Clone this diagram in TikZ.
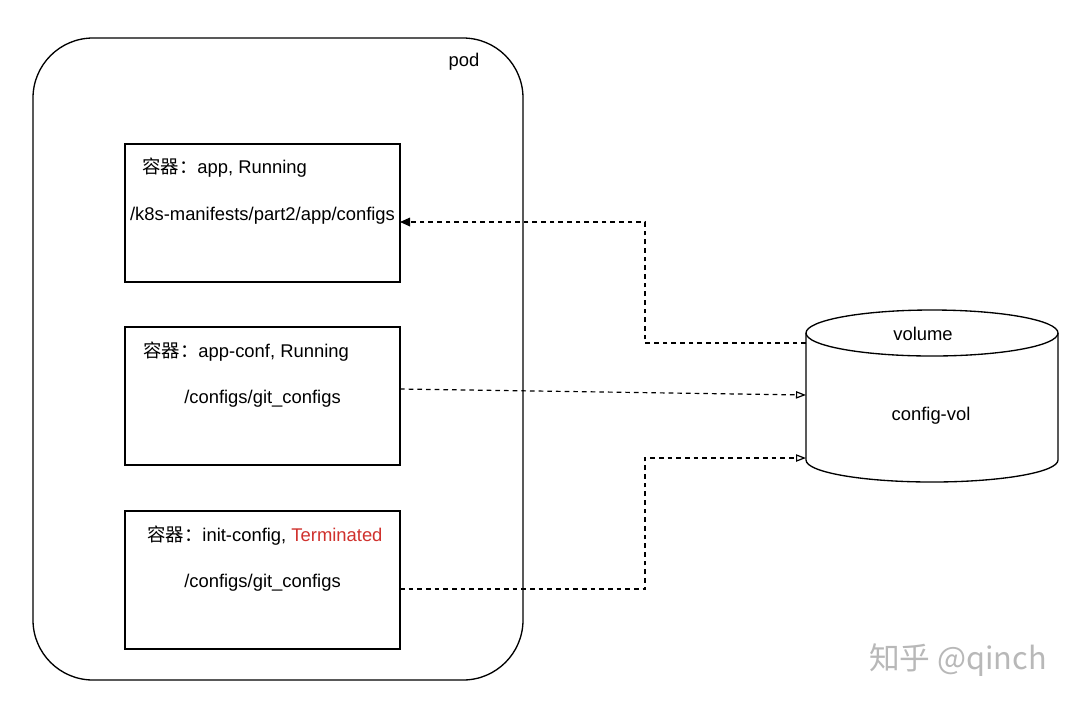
\documentclass[tikz,border=0pt]{standalone}
\usepackage{fontspec}
\setmainfont{Liberation Sans}
\newfontfamily\cjk{Noto Sans CJK SC}
\usetikzlibrary{arrows.meta}
\definecolor{termred}{HTML}{D0312D}
\begin{document}
\begin{tikzpicture}[x=0.75pt,y=-0.75pt,
  lbl/.style={inner sep=0pt, font=\fontsize{13.8pt}{16pt}\selectfont},
  cbox/.style={draw, line width=1pt, minimum width=206.25pt, minimum height=103.5pt, inner sep=0pt, outer sep=0pt},
  conn/.style={line width=0.9pt, dash pattern=on 3.5pt off 3pt},
  opentip/.style={-{Triangle[open, length=7.5pt, width=5.5pt]}},
  filltip/.style={-{Triangle[length=7.5pt, width=6.5pt]}}]
\useasboundingbox (0,0) rectangle (1080,708);
\fill[white] (0,0) rectangle (1080,708);
% pod
\draw[line width=1pt, rounded corners=45pt] (33,38) rectangle (523,680);
\node[lbl] (podlbl) at (464,62) {pod};
% containers
\node[cbox] (c1) at (262.5,213) {};
\node[cbox] (c2) at (262.5,396) {};
\node[cbox] (c3) at (262.5,580) {};
\node[lbl, anchor=west] (t1) at (142,168) {{\cjk 容器：}app, Running};
\node[lbl] (p1) at (262.5,215.5) {/k8s-manifests/part2/app/configs};
\node[lbl, anchor=west] (t2) at (143,352) {{\cjk 容器：}app-conf, Running};
\node[lbl] (p2) at (262.5,398.5) {/configs/git\_configs};
\node[lbl, anchor=west] (t3) at (147,536) {{\cjk 容器：}init-config, \textcolor{termred}{Terminated}};
\node[lbl] (p3) at (262.5,582.5) {/configs/git\_configs};
% volume cylinder
\draw[line width=1pt] (806,333) -- (806,460) arc[start angle=180, end angle=0, x radius=126, y radius=22] -- (1058,333);
\draw[line width=1pt] (932,333) ellipse[x radius=126, y radius=23];
\node[lbl] (vol) at (923,334) {volume};
\node[lbl] (cv) at (931,416) {config-vol};
% connection points
\coordinate (v1) at (806,343);
\coordinate (v2) at (806,395);
\coordinate (v3) at (806,458);
\coordinate (c1e) at (c1.east |- 0,222);
\coordinate (c2e) at (c2.east |- 0,389);
\coordinate (c3e) at (c3.east |- 0,589);
% connectors
\draw[conn, filltip] (v1) -| (645,222) -- (c1e);
\draw[conn, opentip] (c2e) -- (v2);
\draw[conn, opentip] (c3e) -| (645,458) -- (v3);
% watermark
\node[inner sep=0pt, text=black!28, font=\cjk\fontsize{23pt}{25pt}\selectfont] (wm) at (958,660) {知乎 @qinch};
\end{tikzpicture}
\end{document}
